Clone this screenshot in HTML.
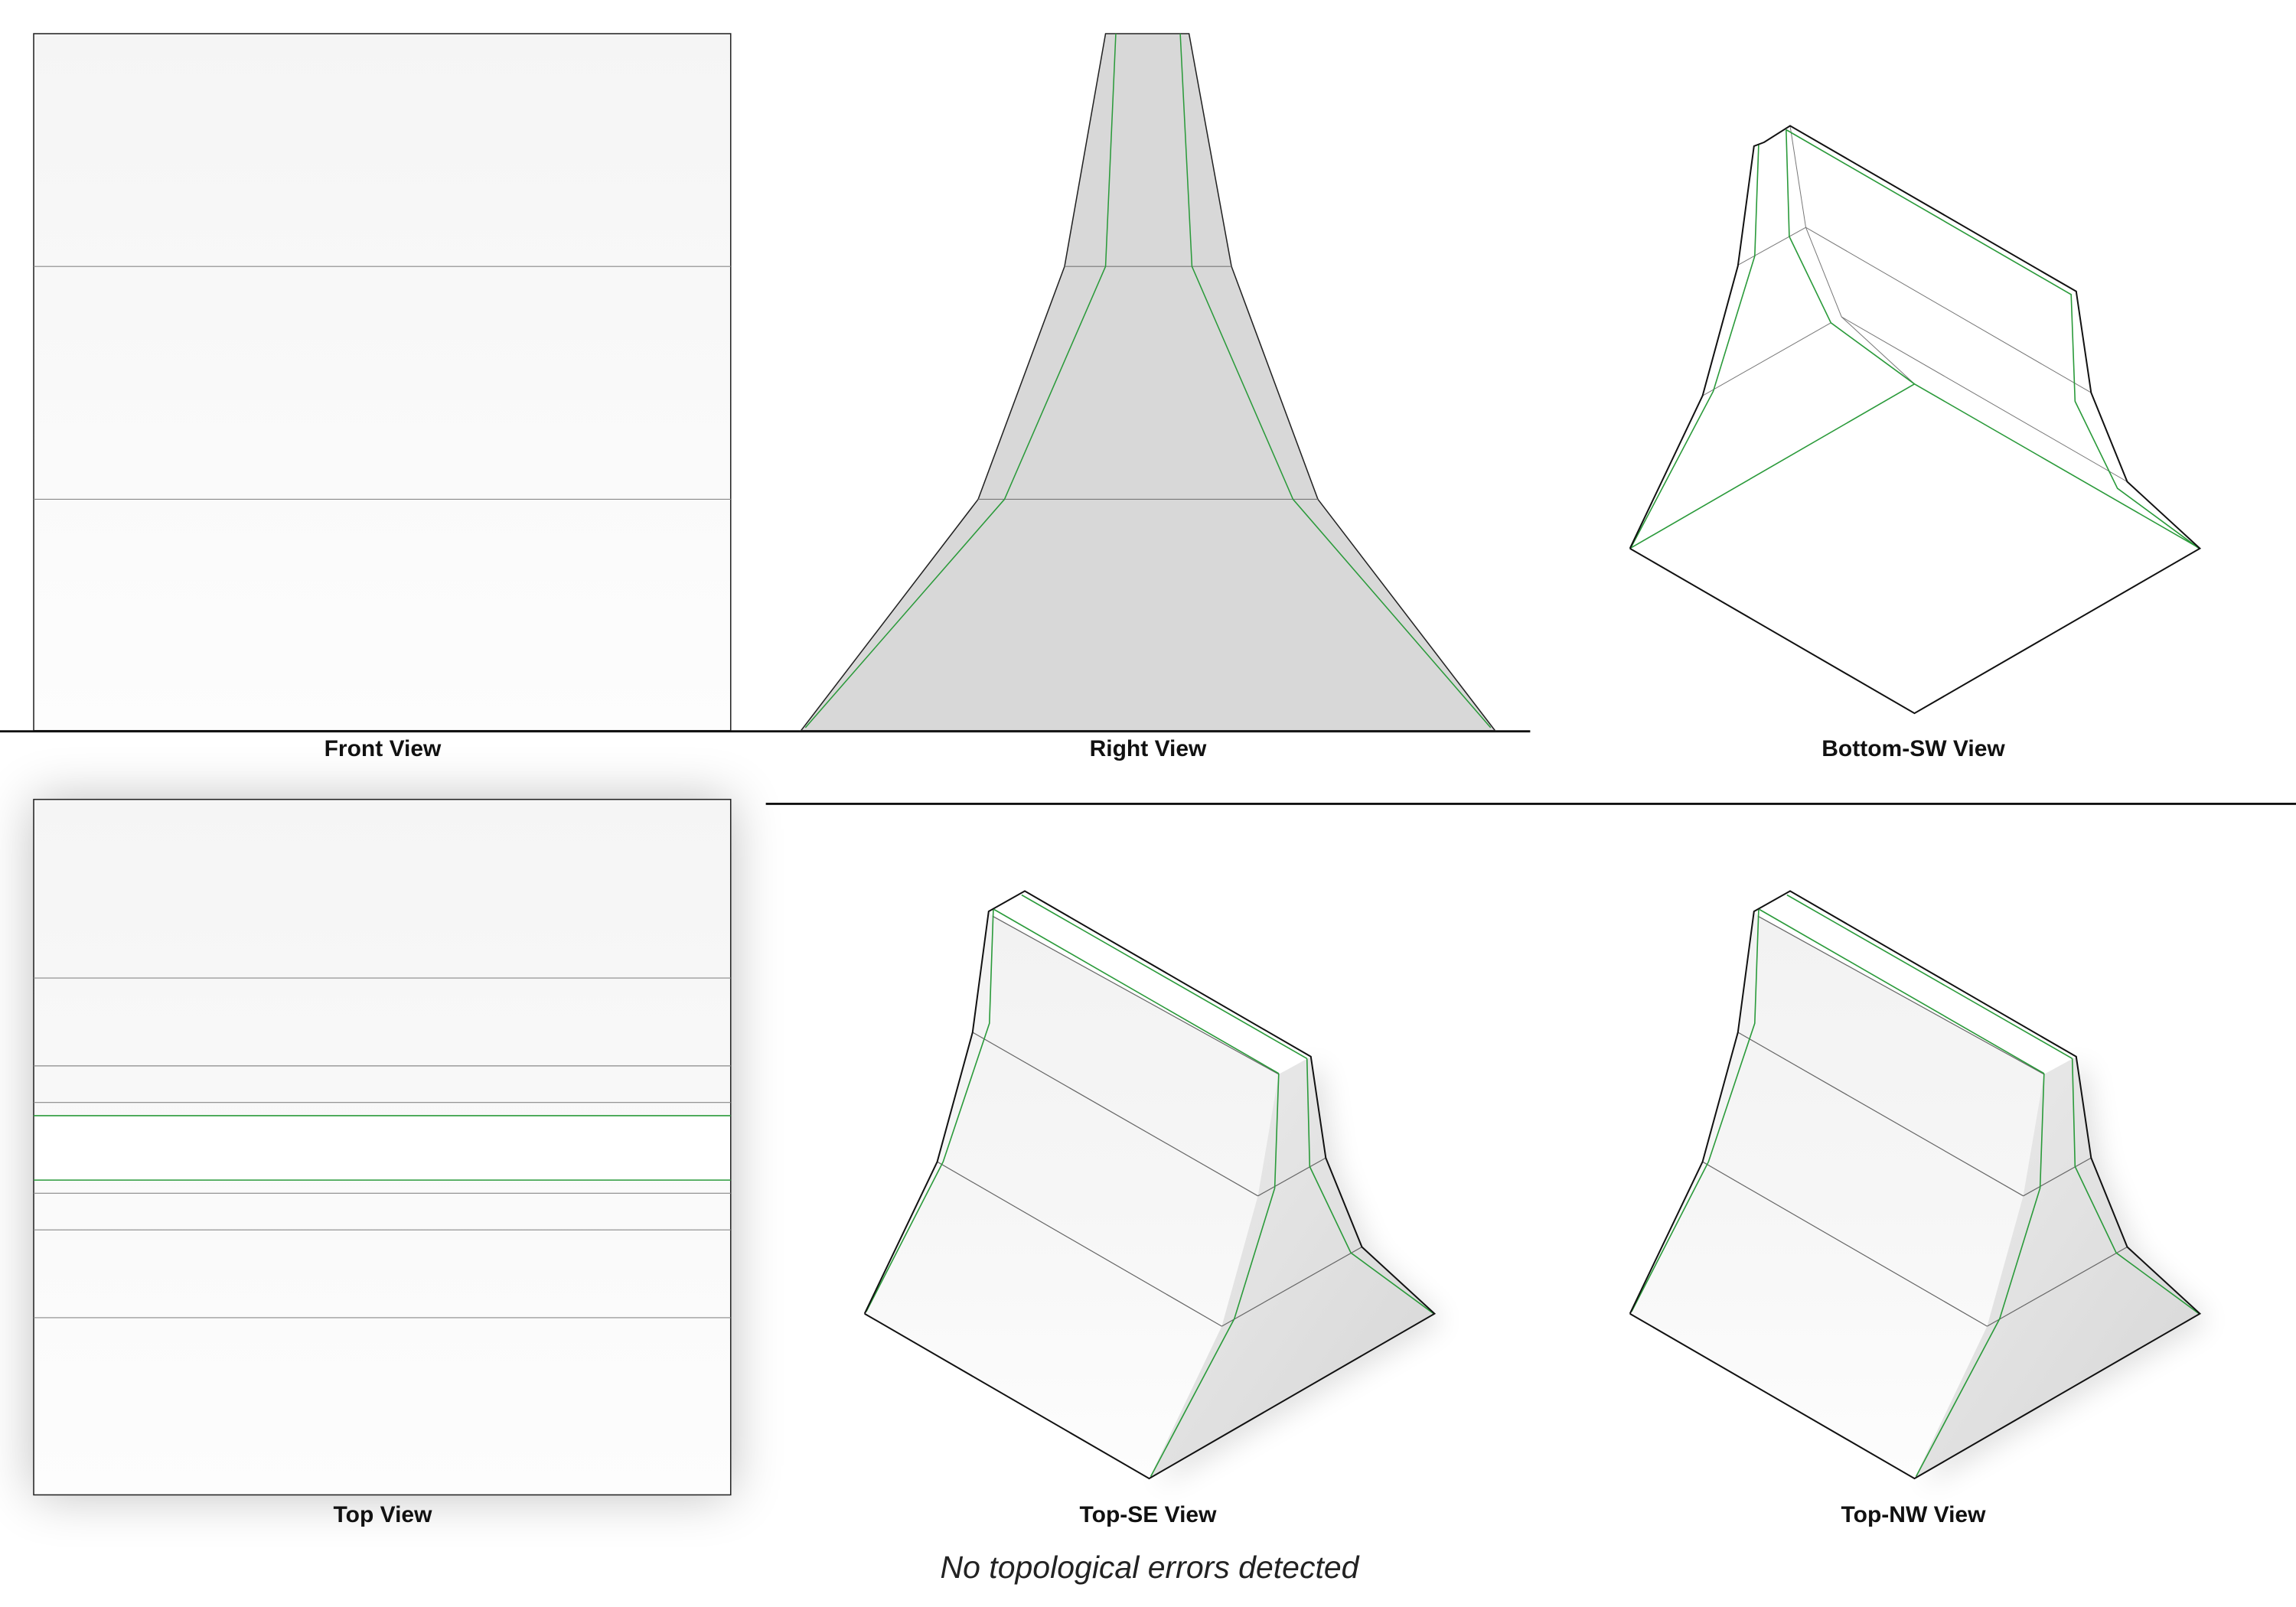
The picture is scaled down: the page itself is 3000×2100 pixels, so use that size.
<!DOCTYPE html>
<html><head><meta charset="utf-8"><style>
html,body{margin:0;padding:0;background:#fff}
svg{display:block}
text{font-family:"Liberation Sans",sans-serif}
</style></head><body>
<svg id="s" width="3000" height="2100" viewBox="0 0 3000 2100" xmlns="http://www.w3.org/2000/svg">
<defs>
<linearGradient id="lg" x1="0" y1="0" x2="0" y2="1"><stop offset="0" stop-color="#f5f5f5"/><stop offset="1" stop-color="#fdfdfd"/></linearGradient>
<linearGradient id="fg" x1="0" y1="0" x2="0" y2="1"><stop offset="0" stop-color="#f2f2f2"/><stop offset="0.5" stop-color="#f6f6f6"/><stop offset="1" stop-color="#fdfdfd"/></linearGradient>
<linearGradient id="rg" x1="0" y1="0" x2="1" y2="1"><stop offset="0" stop-color="#ececec"/><stop offset="1" stop-color="#d6d6d6"/></linearGradient>
<filter id="sh" x="-20%" y="-20%" width="140%" height="140%"><feGaussianBlur stdDeviation="18"/></filter>
</defs>
<g id="ortho" transform="scale(1.9133)">
  <rect x="23" y="23" width="476" height="476" fill="url(#lg)" stroke="#222" stroke-width="0.8"/>
  <line x1="23" y1="182" x2="499" y2="182" stroke="#888" stroke-width="0.6"/>
  <line x1="23" y1="341" x2="499" y2="341" stroke="#888" stroke-width="0.6"/>
  <line x1="0" y1="499.5" x2="1045" y2="499.5" stroke="#111" stroke-width="1.5"/>
  <polygon points="755,23 812,23 841,182 900,341 1021,499 547,499 668,341 727,182" fill="#d8d8d8" stroke="#222" stroke-width="0.8"/>
  <line x1="727" y1="182" x2="841" y2="182" stroke="#777" stroke-width="0.6"/>
  <line x1="668" y1="341" x2="900" y2="341" stroke="#777" stroke-width="0.6"/>
  <polyline points="762,23 755,182 686,341 550,497" fill="none" stroke="#2a9a3a" stroke-width="0.8"/>
  <polyline points="806,23 814,182 883,341 1018,497" fill="none" stroke="#2a9a3a" stroke-width="0.8"/>
  <rect x="23" y="546" width="476" height="475" fill="#000" opacity="0.25" filter="url(#sh)"/>
  <rect x="23" y="546" width="476" height="475" fill="url(#lg)" stroke="#222" stroke-width="0.8"/>
  <rect x="23.5" y="762" width="475" height="44" fill="#fff"/>
  <g stroke="#888" stroke-width="0.6">
    <line x1="23" y1="668" x2="499" y2="668"/><line x1="23" y1="728" x2="499" y2="728"/>
    <line x1="23" y1="753" x2="499" y2="753"/><line x1="23" y1="815" x2="499" y2="815"/>
    <line x1="23" y1="840" x2="499" y2="840"/><line x1="23" y1="900" x2="499" y2="900"/>
  </g>
  <line x1="23" y1="762" x2="499" y2="762" stroke="#2a9a3a" stroke-width="0.8"/>
  <line x1="23" y1="806" x2="499" y2="806" stroke="#2a9a3a" stroke-width="0.8"/>
  <line x1="523" y1="549" x2="1568" y2="549" stroke="#111" stroke-width="1.5"/>
</g>
<g id="iso"></g>
<g font-weight="bold" font-size="30" text-anchor="middle" fill="#111">
  <text x="500" y="988">Front View</text>
  <text x="1500" y="988">Right View</text>
  <text x="2500" y="988">Bottom-SW View</text>
  <text x="500" y="1989">Top View</text>
  <text x="1500" y="1989">Top-SE View</text>
  <text x="2500" y="1989">Top-NW View</text>
</g>
<text x="1502" y="2062" font-size="41" font-style="italic" text-anchor="middle" fill="#222">No topological errors detected</text>
</svg>
<script>
const seFront=[[374,80],[384,90],[1113,495],[1060,805],[968,1137],[783,1525],[58,1105],[243,718],[333,388]];
const seRight=[[1113,495],[1195,450],[1233,708],[1325,935],[1510,1105],[783,1525],[968,1137],[1060,805]];
const seTop=[[374,80],[466,28],[1195,450],[1113,495]];
const seOutline=[[58,1105],[783,1525],[1510,1105],[1325,935],[1233,708],[1195,450],[466,28],[374,80],[333,388],[243,718],[58,1105]];
const seGray=[[[384,92],[1113,495]],[[333,388],[1060,805]],[[243,718],[968,1137]],[[1060,805],[1233,708]],[[968,1137],[1325,935]]];
const seGreen=[[[386,75],[376,365],[258,718],[62,1100]],[[388,75],[1113,493]],[[458,38],[1185,455]],[[1185,455],[1192,730],[1297,950],[1508,1105]],[[1113,493],[1103,785],[1000,1118],[787,1520]]];
const swOutline=[[58,1105],[783,1525],[1510,1105],[1325,935],[1233,708],[1195,450],[466,28],[400,70],[374,80],[333,385],[243,716],[58,1105]];
const swGreen=[[[58,1105],[783,686],[1510,1105]],[[62,1100],[270,705],[376,360],[386,75]],[[456,38],[464,310],[570,530],[783,686]],[[456,38],[1182,458],[1192,730],[1300,952],[1508,1105]]];
const swGray=[[[333,383],[506,287]],[[506,287],[466,28]],[[506,287],[597,515],[783,686]],[[506,287],[1233,708]],[[597,515],[1325,935]],[[243,716],[570,530]]];
const NS='http://www.w3.org/2000/svg';
const iso=document.getElementById('iso');
function pts(a,ox,oy){return a.map(p=>(ox+p[0]/1.95).toFixed(1)+','+(oy+p[1]/1.95).toFixed(1)).join(' ');}
function add(tag,a,ox,oy,attrs,name){const e=document.createElementNS(NS,tag);e.setAttribute('points',pts(a,ox,oy));for(const k in attrs)e.setAttribute(k,attrs[k]);


iso.appendChild(e);}
function drawSE(ox,oy,nm){
  add('polygon',seRight,ox+12,oy+10,{fill:'#000',opacity:'0.12',filter:'url(#sh)'},nm+'-shadow');
  add('polygon',seFront,ox,oy,{fill:'url(#fg)'},nm+'-front-face');
  add('polygon',seRight,ox,oy,{fill:'url(#rg)'},nm+'-side-face');
  add('polygon',seTop,ox,oy,{fill:'#fff'},nm+'-top-face');
  seGray.forEach(l=>add('polyline',l,ox,oy,{fill:'none',stroke:'#666','stroke-width':'1.2'},nm+'-edge'));
  seGreen.forEach(l=>add('polyline',l,ox,oy,{fill:'none',stroke:'#2a9a3a','stroke-width':'1.6'},nm+'-seam'));
  add('polyline',seOutline,ox,oy,{fill:'none',stroke:'#111','stroke-width':'2'},nm+'-outline');
}
drawSE(1100,1150,'top-se-view');
drawSE(2100,1150,'top-nw-view');
swGray.forEach(l=>add('polyline',l,2100,150,{fill:'none',stroke:'#777','stroke-width':'1'},'bottom-sw-edge'));
swGreen.forEach(l=>add('polyline',l,2100,150,{fill:'none',stroke:'#2a9a3a','stroke-width':'1.6'},'bottom-sw-seam'));
add('polyline',swOutline,2100,150,{fill:'none',stroke:'#111','stroke-width':'2'},'bottom-sw-outline');
</script>
</body></html>
